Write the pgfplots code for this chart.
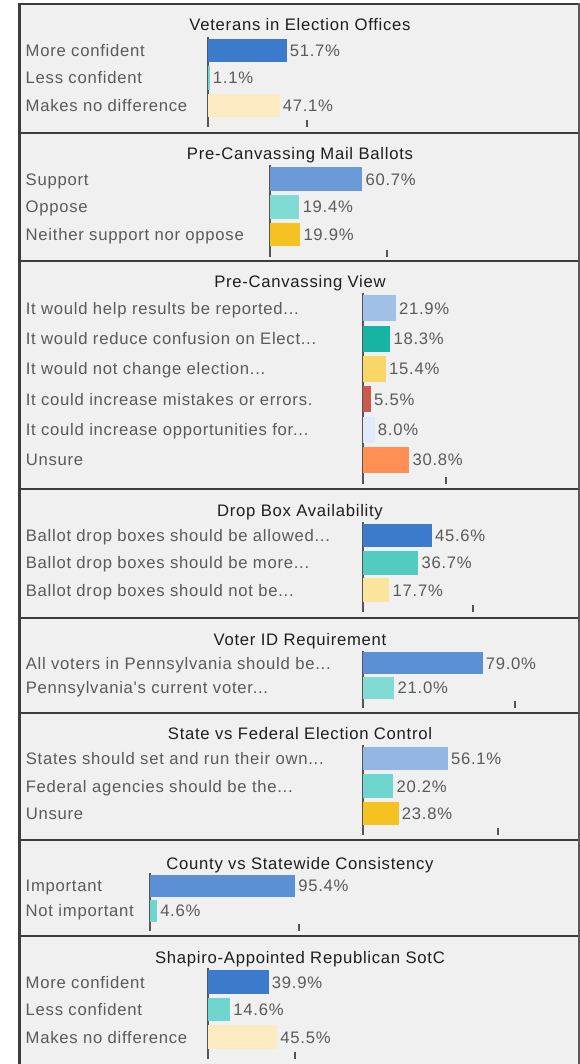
\documentclass[border=0pt]{standalone}
\usepackage{fontspec}
\usepackage{pgfplots}
\pgfplotsset{compat=1.18}
\newfontfamily\lab{Liberation Sans}[LetterSpace=4.4]
\newcommand{\labfont}{\lab\fontsize{12.5}{14}\selectfont}
\newcommand{\ddd}{...}
\definecolor{bg}{HTML}{F0F0F0}
\definecolor{framec}{HTML}{3C3C3C}
\definecolor{axgray}{HTML}{555555}
\definecolor{labgray}{HTML}{5A5A5A}
\definecolor{titlec}{HTML}{1E1E1E}
% bar colours
\definecolor{blueA}{HTML}{3C7BCC}
\definecolor{blueB}{HTML}{6B9AD8}
\definecolor{blueC}{HTML}{5B90D5}
\definecolor{blueD}{HTML}{94B6E3}
\definecolor{blueE}{HTML}{A0C0E8}
\definecolor{blueF}{HTML}{DFEAFB}
\definecolor{tealA}{HTML}{80DBD4}
\definecolor{tealB}{HTML}{17B3A3}
\definecolor{tealC}{HTML}{52CBC0}
\definecolor{tealD}{HTML}{6FD6CF}
\definecolor{cream}{HTML}{FCEBC1}
\definecolor{goldA}{HTML}{F4C322}
\definecolor{yelA}{HTML}{F8D768}
\definecolor{yelB}{HTML}{FBE49B}
\definecolor{redA}{HTML}{CC5A4C}
\definecolor{orA}{HTML}{FF8F55}
\pgfplotsset{
  panel/.style={
    xbar, scale only axis, width=114pt, xmin=0, xmax=100,
    anchor=south west, clip=false,
    bar shift=0pt, bar width=0.86,
    ymin=-0.8,
    axis x line*=bottom, axis y line*=left,
    x axis line style={draw=none},
    y axis line style={-, draw=axgray, line width=1.5pt},
    tick align=inside,
    xticklabels={},
    major tick length=5.25pt,
    x tick style={draw=axgray, line width=1.5pt},
    y tick style={draw=none},
    yticklabel style={font=\labfont, text=labgray, anchor=west, inner sep=0pt,
      text height=9pt, text depth=0pt},
    nodes near coords, point meta=explicit symbolic,
    every node near coord/.append style={font=\labfont, text=labgray, anchor=west,
      inner sep=0pt, xshift=2.25pt, text height=9pt, text depth=0pt},
  },
}
\tikzset{ttl/.style={font=\labfont, text=titlec, text height=9pt, text depth=0pt, inner sep=0pt, anchor=center}}
\begin{document}
\begin{tikzpicture}
\path[use as bounding box, fill=white] (0,0) rectangle (435pt,798pt);
\fill[bg] (14.6pt,0) rectangle (434.25pt,795pt);
% frame
\foreach \yy in {795,698.25,602.25,431.25,334.5,263.25,168,96}
  \draw[framec, line width=1.8pt] (13.7pt,\yy pt) -- (435pt,\yy pt);
\draw[framec, line width=1.8pt] (14.6pt,0) -- (14.6pt,796pt);
\draw[gray!70!black, line width=1.2pt] (434.4pt,0) -- (434.4pt,796pt);

% titles
\node[ttl] at (225pt,779.25pt) {Veterans in Election Offices};
\node[ttl] at (225pt,683pt) {Pre-Canvassing Mail Ballots};
\node[ttl] at (225pt,586.7pt) {Pre-Canvassing View};
\node[ttl] at (225pt,415pt) {Drop Box Availability};
\node[ttl] at (225pt,318.5pt) {Voter ID Requirement};
\node[ttl] at (225pt,247.5pt) {State vs Federal Election Control};
\node[ttl] at (225pt,150.5pt) {County vs Statewide Consistency};
\node[ttl] at (225pt,80pt) {Shapiro-Appointed Republican SotC};

% Panel 1
\begin{axis}[panel, at={(156pt,702.5pt)}, height=68pt, ymax=2.5,
  xtick={65.4}, ytick={0,1,2},
  yticklabels={Makes no difference, Less confident, More confident},
  yticklabel style={xshift=-136.9pt}]
\addplot[fill=blueA, draw=none] coordinates {(51.7,2) [51.7\%]};
\addplot[fill=tealD, draw=none] coordinates {(1.1,1) [1.1\%]};
\addplot[fill=cream, draw=none] coordinates {(47.1,0) [47.1\%]};
\end{axis}

% Panel 2
\begin{axis}[panel, at={(202.5pt,605.5pt)}, height=68.5pt, ymax=2.5,
  xtick={77.2}, ytick={0,1,2},
  yticklabels={Neither support nor oppose, Oppose, Support},
  yticklabel style={xshift=-183.4pt}]
\addplot[fill=blueB, draw=none] coordinates {(60.7,2) [60.7\%]};
\addplot[fill=tealA, draw=none] coordinates {(19.4,1) [19.4\%]};
\addplot[fill=goldA, draw=none] coordinates {(19.9,0) [19.9\%]};
\end{axis}

% Panel 3
\begin{axis}[panel, at={(271.9pt,435pt)}, height=143pt, ymax=5.5,
  xtick={55.2}, ytick={0,1,2,3,4,5},
  yticklabels={Unsure, It could increase opportunities for\ddd, It could increase mistakes or errors., It would not change election\ddd, It would reduce confusion on Elect\ddd, It would help results be reported\ddd},
  yticklabel style={xshift=-252.75pt}]
\addplot[fill=blueE, draw=none] coordinates {(21.9,5) [21.9\%]};
\addplot[fill=tealB, draw=none] coordinates {(18.3,4) [18.3\%]};
\addplot[fill=yelA, draw=none] coordinates {(15.4,3) [15.4\%]};
\addplot[fill=redA, draw=none] coordinates {(5.5,2) [5.5\%]};
\addplot[fill=blueF, draw=none] coordinates {(8.0,1) [8.0\%]};
\addplot[fill=orA, draw=none] coordinates {(30.8,0) [30.8\%]};
\end{axis}

% Panel 4
\begin{axis}[panel, at={(271.9pt,338.8pt)}, height=68pt, ymax=2.5,
  xtick={72.5}, ytick={0,1,2},
  yticklabels={Ballot drop boxes should not be\ddd, Ballot drop boxes should be more\ddd, Ballot drop boxes should be allowed\ddd},
  yticklabel style={xshift=-252.75pt}]
\addplot[fill=blueA, draw=none] coordinates {(45.6,2) [45.6\%]};
\addplot[fill=tealC, draw=none] coordinates {(36.7,1) [36.7\%]};
\addplot[fill=yelB, draw=none] coordinates {(17.7,0) [17.7\%]};
\end{axis}

% Panel 5
\begin{axis}[panel, at={(271.9pt,267.2pt)}, height=42.75pt, ymax=1.5,
  xtick={100}, ytick={0,1},
  yticklabels={Pennsylvania's current voter\ddd, All voters in Pennsylvania should be\ddd},
  yticklabel style={xshift=-252.75pt}]
\addplot[fill=blueC, draw=none] coordinates {(79.0,1) [79.0\%]};
\addplot[fill=tealA, draw=none] coordinates {(21.0,0) [21.0\%]};
\end{axis}

% Panel 6
\begin{axis}[panel, at={(271.9pt,171.4pt)}, height=68pt, ymax=2.5,
  xtick={89}, ytick={0,1,2},
  yticklabels={Unsure, Federal agencies should be the\ddd, States should set and run their own\ddd},
  yticklabel style={xshift=-252.75pt}]
\addplot[fill=blueD, draw=none] coordinates {(56.1,2) [56.1\%]};
\addplot[fill=tealD, draw=none] coordinates {(20.2,1) [20.2\%]};
\addplot[fill=goldA, draw=none] coordinates {(23.8,0) [23.8\%]};
\end{axis}

% Panel 7
\begin{axis}[panel, at={(112.5pt,99.75pt)}, height=43.3pt, ymax=1.5,
  xtick={98}, ytick={0,1},
  yticklabels={Not important, Important},
  yticklabel style={xshift=-93.4pt}]
\addplot[fill=blueC, draw=none] coordinates {(95.4,1) [95.4\%]};
\addplot[fill=tealD, draw=none] coordinates {(4.6,0) [4.6\%]};
\end{axis}

% Panel 8
\begin{axis}[panel, at={(156pt,3.75pt)}, height=68pt, ymax=2.5,
  xtick={57}, ytick={0,1,2},
  yticklabels={Makes no difference, Less confident, More confident},
  yticklabel style={xshift=-136.9pt}]
\addplot[fill=blueA, draw=none] coordinates {(39.9,2) [39.9\%]};
\addplot[fill=tealD, draw=none] coordinates {(14.6,1) [14.6\%]};
\addplot[fill=cream, draw=none] coordinates {(45.5,0) [45.5\%]};
\end{axis}
\end{tikzpicture}
\end{document}
